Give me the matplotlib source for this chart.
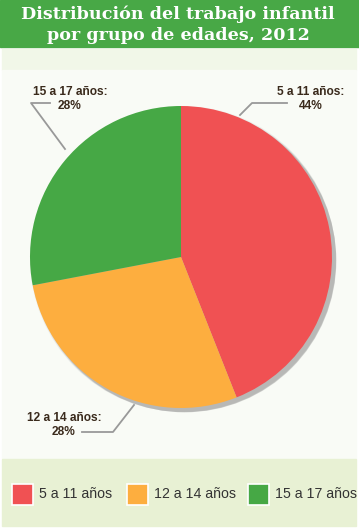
import matplotlib
matplotlib.use("Agg")
import matplotlib.pyplot as plt
from matplotlib.patches import Rectangle, Circle

categories = ["5 a 11 años", "12 a 14 años", "15 a 17 años"]
values = [44, 28, 28]
colors = ["#F05153", "#FDAE3F", "#46A845"]
title = "Distribución del trabajo infantil\npor grupo de edades, 2012"

sans = ["Liberation Sans", "DejaVu Sans"]

W, H = 359, 528
fig = plt.figure(figsize=(W / 100, H / 100), dpi=100)
ax = fig.add_axes([0, 0, 1, 1])

def Y(y):
    return H - y

# backgrounds
ax.add_patch(Rectangle((0, Y(47)), W, 47, color="#48A846", zorder=0))
ax.add_patch(Rectangle((2, Y(70)), 354, 21, color="#F1F7E8", zorder=0))
ax.add_patch(Rectangle((2, Y(458)), 354, 388, color="#F9FBF6", zorder=0))
ax.add_patch(Rectangle((2, Y(526)), 354, 67, color="#E8F1D4", zorder=0))

ax.text(178, Y(25), title, ha="center", va="center", color="white",
        fontsize=12.6, fontweight="bold", family="DejaVu Serif", linespacing=1.3)

cx, cy, r = 181, Y(257), 151
# shadow
for i, a in enumerate([0.08, 0.12, 0.18, 0.25]):
    ax.add_patch(Circle((cx + 2 + 0.6 * i, cy - 2 - 0.6 * i), r + 2 - i * 0.5,
                        color="#7a7a7a", alpha=a, zorder=1, lw=0))

wedges, _ = ax.pie(values, colors=colors, startangle=90, counterclock=False,
                   center=(cx, cy), radius=r, frame=True,
                   wedgeprops=dict(linewidth=0, zorder=2))
for w in wedges:
    w.set_zorder(2)

lab_kw = dict(ha="center", va="center", fontsize=8.6, fontweight="bold",
              color="#3A2A1C", family=sans, linespacing=1.2)
lc = "#999999"
# 5 a 11
ax.text(311, Y(99), f"{categories[0]}:\n{values[0]}%", **lab_kw)
ax.plot([240, 252, 287], [Y(115), Y(103), Y(103)], color=lc, lw=1.3, zorder=3)
# 15 a 17
ax.text(70, Y(99), f"{categories[2]}:\n{values[2]}%", **lab_kw)
ax.plot([50, 31, 65], [Y(103), Y(103), Y(149)], color=lc, lw=1.3, zorder=3)
# 12 a 14
ax.text(64, Y(425), f"{categories[1]}:\n{values[1]}%", **lab_kw)
ax.plot([82, 113, 134], [Y(432), Y(432), Y(405)], color=lc, lw=1.3, zorder=3)

# legend
sq_x = [12, 127, 248]
for x0, c, lab in zip(sq_x, colors, categories):
    ax.add_patch(Rectangle((x0, Y(505)), 21, 21, facecolor=c, edgecolor="white",
                           lw=1.2, zorder=3))
    ax.text(x0 + 27, Y(494.5), lab, ha="left", va="center", fontsize=10.2,
            color="#333333", family=sans)

ax.set_xlim(0, W)
ax.set_ylim(0, H)
ax.set_aspect("equal")
ax.set_axis_off()
fig.savefig("out.png", dpi=100, facecolor="white")
